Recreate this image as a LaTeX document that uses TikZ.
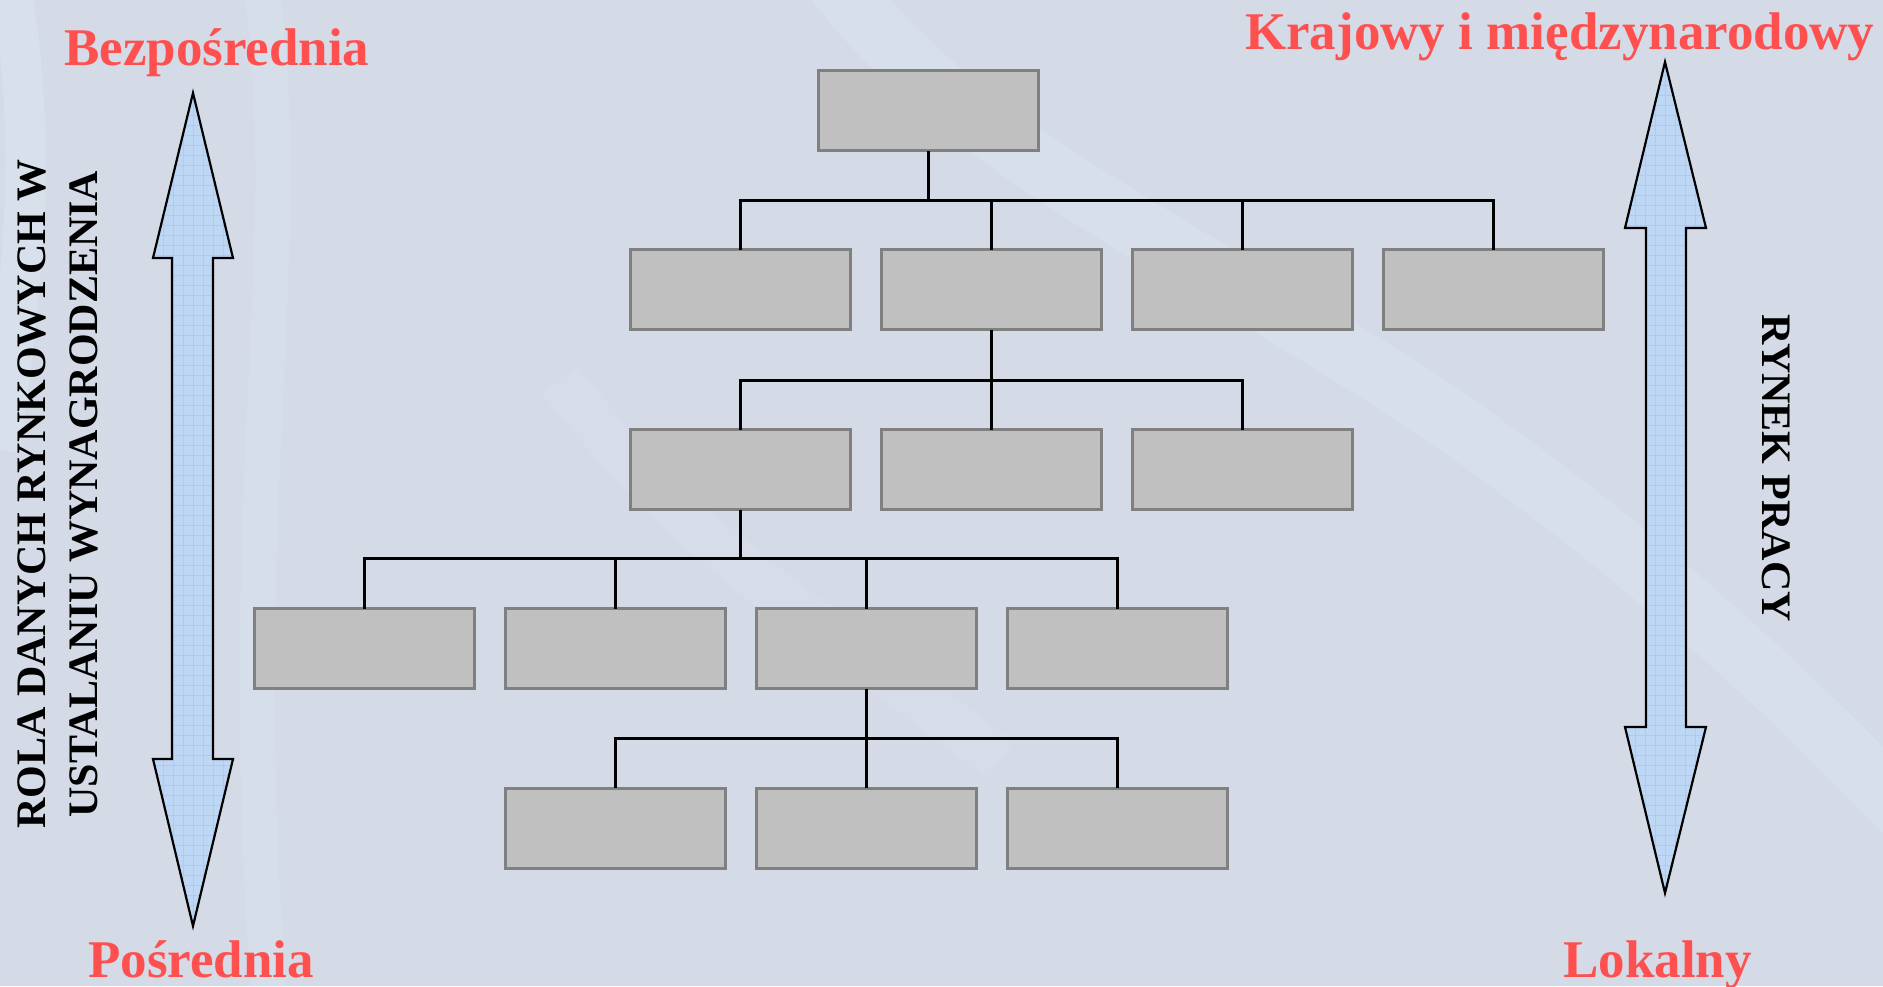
\documentclass[tikz,border=0pt]{standalone}
\usepackage{fontspec}
\setmainfont{Liberation Serif}
\usetikzlibrary{calc}
\definecolor{bgc}{RGB}{213,218,231}
\definecolor{streak}{RGB}{222,238,245}
\definecolor{boxfill}{RGB}{192,192,192}
\definecolor{boxline}{RGB}{128,128,128}
\definecolor{redlab}{RGB}{255,80,80}
\definecolor{arrfill}{RGB}{190,215,245}
\definecolor{arrgrid}{RGB}{168,204,245}
\tikzset{
  orgbox/.style={draw=boxline, fill=boxfill, line width=3pt, minimum width=220pt, minimum height=80pt, inner sep=0pt, outer sep=0pt},
  conn/.style={draw=black, line width=3pt},
  redlabel/.style={text=redlab, font=\bfseries\fontsize{53}{60}\selectfont, inner sep=0pt},
  sidelabel/.style={text=black, font=\bfseries\fontsize{42}{48}\selectfont, inner sep=0pt},
  bigarrow/.style={draw=black, line width=2.2pt, line join=miter},
  soft/.style={streak, line cap=butt}
}
\begin{document}
\begin{tikzpicture}[x=1pt,y=-1pt]
% background
\fill[bgc] (0,0) rectangle (1883,986);
\useasboundingbox (0,0) rectangle (1883,986);
\begin{scope}
\clip (0,0) rectangle (1883,986);
\draw[soft, opacity=0.35, line width=40pt] (10,-20) .. controls (40,150) and (20,300) .. (0,450);
\draw[soft, opacity=0.22, line width=35pt] (260,-20) .. controls (300,250) and (230,500) .. (270,1010);
\draw[soft, opacity=0.28, line width=60pt] (820,-40) .. controls (950,150) and (1200,250) .. (1450,420) .. controls (1650,560) and (1800,700) .. (1950,860);
\draw[soft, opacity=0.18, line width=45pt] (560,380) .. controls (700,560) and (820,620) .. (1000,760);
\end{scope}

% org chart boxes
\node[orgbox] (top) at (928.5,110.5) {};
\node[orgbox] (r2a) at (740.5,289.5) {};
\node[orgbox] (r2b) at (991.5,289.5) {};
\node[orgbox] (r2c) at (1242.5,289.5) {};
\node[orgbox] (r2d) at (1493.5,289.5) {};
\node[orgbox] (r3a) at (740.5,469.5) {};
\node[orgbox] (r3b) at (991.5,469.5) {};
\node[orgbox] (r3c) at (1242.5,469.5) {};
\node[orgbox] (r4a) at (364.5,648.5) {};
\node[orgbox] (r4b) at (615.5,648.5) {};
\node[orgbox] (r4c) at (866.5,648.5) {};
\node[orgbox] (r4d) at (1117.5,648.5) {};
\node[orgbox] (r5a) at (615.5,828) {};
\node[orgbox] (r5b) at (866.5,828) {};
\node[orgbox] (r5c) at (1117.5,828) {};

% junctions
\coordinate (j1) at (top.south |- 0,200);
\coordinate (j2) at (r2b.south |- 0,380);
\coordinate (j3) at (r3a.south |- 0,558);
\coordinate (j4) at (r4c.south |- 0,738);

\draw[conn] (top.south) -- (j1);
\foreach \c in {r2a,r2b,r2c,r2d} \draw[conn] (j1) -| (\c.north);
\draw[conn] (r2b.south) -- (j2);
\foreach \c in {r3a,r3b,r3c} \draw[conn] (j2) -| (\c.north);
\draw[conn] (r3a.south) -- (j3);
\foreach \c in {r4a,r4b,r4c,r4d} \draw[conn] (j3) -| (\c.north);
\draw[conn] (r4c.south) -- (j4);
\foreach \c in {r5a,r5b,r5c} \draw[conn] (j4) -| (\c.north);

% left double arrow
\def\leftarr{(193,93) -- (233,258) -- (213,258) -- (213,759) -- (233,759) -- (193,926) -- (153,759) -- (172,759) -- (172,258) -- (153,258) -- cycle}
\fill[arrfill] \leftarr;
\begin{scope}
\clip \leftarr;
\foreach \k in {0,...,90} \draw[arrgrid, line width=0.6pt] (140,{85+10*\k}) -- (240,{85+10*\k});
\foreach \k in {0,...,10} \draw[arrgrid, line width=0.6pt] ({143+10*\k},80) -- ({143+10*\k},940);
\end{scope}
\draw[bigarrow] \leftarr;

% right double arrow
\def\rightarr{(1665,62) -- (1706,228) -- (1686,228) -- (1686,727) -- (1706,727) -- (1665,893) -- (1625,727) -- (1646,727) -- (1646,228) -- (1625,228) -- cycle}
\fill[arrfill] \rightarr;
\begin{scope}
\clip \rightarr;
\foreach \k in {0,...,90} \draw[arrgrid, line width=0.6pt] (1610,{55+10*\k}) -- (1720,{55+10*\k});
\foreach \k in {0,...,11} \draw[arrgrid, line width=0.6pt] ({1615+10*\k},50) -- ({1615+10*\k},910);
\end{scope}
\draw[bigarrow] \rightarr;

% labels
\node[redlabel, anchor=base west] (lbez) at (64,65) {Bezpośrednia};
\node[redlabel, anchor=base west] (lpos) at (88,977) {Pośrednia};
\node[redlabel, anchor=base west] (lkra) at (1245,49) {Krajowy i międzynarodowy};
\node[redlabel, anchor=base west] (llok) at (1563,977) {Lokalny};

\node[sidelabel, rotate=90, anchor=base] (rola1) at (45,494) {ROLA DANYCH RYNKOWYCH W};
\node[sidelabel, rotate=90, anchor=base] (rola2) at (97,494) {USTALANIU WYNAGRODZENIA};
\node[sidelabel, rotate=-90, anchor=base] (rynek) at (1762,468) {RYNEK PRACY};
\end{tikzpicture}
\end{document}
